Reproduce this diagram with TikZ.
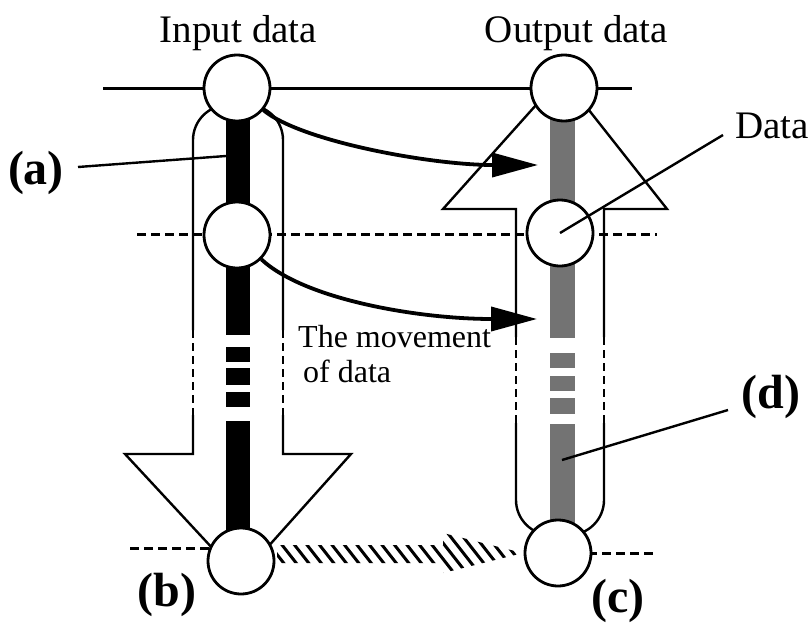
\documentclass[tikz,border=0pt]{standalone}
\usepackage{fontspec}
\setmainfont{Liberation Serif}
\usetikzlibrary{arrows.meta}
\begin{document}
\begin{tikzpicture}[x=1pt,y=-1pt,
  ring/.style={circle,draw,fill=white,line width=2.8pt,minimum size=66pt,inner sep=0pt},
  outline/.style={line width=2.4pt},
  sidedash/.style={line width=2.4pt,dash pattern=on 8pt off 5pt},
  guide/.style={line width=3pt,dash pattern=on 9pt off 5pt},
  mover/.style={line width=3.8pt,-{Triangle[length=46pt,width=24pt]}},
  leader/.style={line width=2.4pt},
  heading/.style={font=\fontsize{39}{44}\selectfont},
  tag/.style={font=\fontsize{48}{52}\selectfont\bfseries},
  note/.style={font=\fontsize{32}{35}\selectfont},
]
\useasboundingbox (0,0) rectangle (812,624);
\fill[white] (0,0) rectangle (812,624);

% data bars (input: solid black, output: grey), with gaps
\foreach \a/\b in {115/210,260/335,347/362,368/385,392/407,421/540}
  \fill[black] (226,\a) rectangle (250,\b);
\foreach \a/\b in {115/205,260/338,353/368,376/391,398/414,424/530}
  \fill[black!55] (550,\a) rectangle (575,\b);

% input tube turning into a downward arrow
\draw[outline] (193,330) -- (193,140) .. controls (193,120.7) and (208.7,105) .. (228,105)
  -- (248,105) .. controls (267.3,105) and (283,120.7) .. (283,140) -- (283,330);
\draw[sidedash] (193,330) -- (193,415);
\draw[sidedash] (283,330) -- (283,415);
\draw[outline] (193,415) -- (193,454) -- (125,454) -- (240,578) -- (351,454) -- (283,454) -- (283,415);

% output tube turning into an upward arrow
\draw[outline] (516,337) -- (516,209) -- (443,209) -- (562,76) -- (667,209) -- (604,209) -- (604,337);
\draw[sidedash] (516,337) -- (516,423);
\draw[sidedash] (604,337) -- (604,423);
\draw[outline] (516,423) -- (516,500) .. controls (516,519.3) and (531.7,535) .. (551,535)
  -- (569,535) .. controls (588.3,535) and (604,519.3) .. (604,500) -- (604,423);

% hatched arrow along the bottom
\begin{scope}
  \clip (277,545) -- (443,545) -- (443,533) -- (523,553) -- (443,573) -- (443,563) -- (277,563) -- cycle;
  \foreach \x in {250,262.5,...,540}
    \draw[line width=3pt] (\x,520) -- ++(47,60);
\end{scope}

% level lines
\draw[line width=3pt] (103,88) -- (632,88);
\draw[guide] (137,234) -- (657,234);
\draw[guide] (130,548) -- (238,548);
\draw[guide] (560,553) -- (653,553);

% data items
\node[ring] (I1) at (237,88) {};
\node[ring] (I2) at (237,235) {};
\node[ring] (I3) at (241,561) {};
\node[ring] (O1) at (564,88) {};
\node[ring] (O2) at (560,233) {};
\node[ring] (O3) at (558,553) {};

% movement of data
\coordinate (m1) at (538,165);
\coordinate (m2) at (537,319);
\draw[mover] (I1.-40) .. controls (300,141) and (430,165) .. (m1);
\draw[mover] (I2.-45) .. controls (305,300) and (420,319) .. (m2);

% leader lines
\coordinate (la) at (78,167);
\coordinate (lab) at (226,156);
\coordinate (ld) at (723,135);
\coordinate (ldd) at (728,410);
\coordinate (ldb) at (562,460);
\draw[leader] (la) -- (lab);
\draw[leader] (O2.center) -- (ld);
\draw[leader] (ldd) -- (ldb);

% texts
\node[heading,anchor=base] (tin) at (238.5,42) {Input data};
\node[heading,anchor=base] (tout) at (576.5,42) {Output data};
\node[heading,anchor=base west,inner sep=0pt] (tdata) at (735,138) {Data};
\node[note,anchor=base west,inner sep=0pt] (tmove) at (298,347) {The movement};
\node[note,anchor=base west,inner sep=0pt] (tof) at (303,382) {of data};
\node[tag] (ta) at (36,173) {(a)};
\node[tag] (tb) at (167,595) {(b)};
\node[tag] (tc) at (618,601) {(c)};
\node[tag] (td) at (771,397) {(d)};
\end{tikzpicture}
\end{document}
